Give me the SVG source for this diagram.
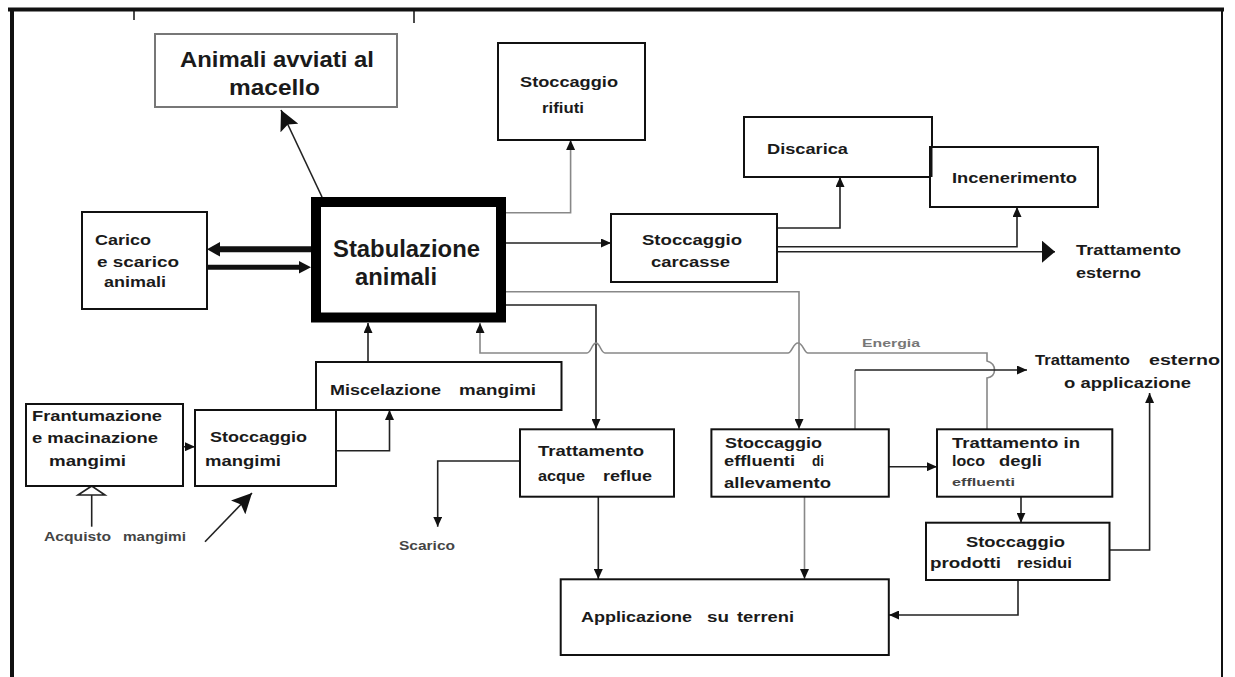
<svg xmlns="http://www.w3.org/2000/svg" width="1235" height="677" viewBox="0 0 1235 677">
<style>
.box{fill:#fff;stroke:#111;stroke-width:2}
.t{font-family:"Liberation Sans",Arial,sans-serif;font-weight:bold;font-size:15px;fill:#1a1a1a}
.s{font-family:"Liberation Sans",Arial,sans-serif;font-weight:bold;font-size:12px;fill:#444}
.big{font-family:"Liberation Sans",Arial,sans-serif;font-weight:bold;font-size:24px;fill:#1a1a1a}
.c{fill:none;stroke:#222;stroke-width:1.6}
.g{fill:none;stroke:#888;stroke-width:1.6}
</style>
<defs>
<marker id="a" markerUnits="userSpaceOnUse" markerWidth="10" markerHeight="9" refX="10" refY="4.5" orient="auto"><path d="M0,0 L10,4.5 L0,9 z" fill="#111"/></marker>
<marker id="b" markerUnits="userSpaceOnUse" markerWidth="20" markerHeight="20" refX="20" refY="10" orient="auto"><path d="M0,0 L20,10 L0,20 L4,10 z" fill="#111"/></marker>
<marker id="k" markerUnits="userSpaceOnUse" markerWidth="13" markerHeight="22" refX="13" refY="11" orient="auto"><path d="M0,0 L13,11 L0,22 z" fill="#111"/></marker>
</defs>
<rect width="1235" height="677" fill="#fff"/>
<g id="frame" fill="none" stroke="#111">
<line x1="8" y1="9.5" x2="1224" y2="9.5" stroke-width="4"/>
<line x1="12" y1="8" x2="12" y2="677" stroke-width="4"/>
<line x1="1222" y1="9" x2="1222" y2="677" stroke-width="2"/>
<line x1="134" y1="11" x2="134" y2="20" stroke-width="1.5"/>
<line x1="414" y1="11" x2="414" y2="23" stroke-width="1.5"/>
</g>
<g id="connectors">
<path class="c" d="M322,197 L281,110" marker-end="url(#b)"/>
<path class="g" d="M506,212.7 H570.6 V140" marker-end="url(#a)"/>
<path class="c" d="M506,243 H611" marker-end="url(#a)"/>
<path class="c" d="M775,228 H840 V177" marker-end="url(#a)"/>
<path class="c" d="M775,246.7 H1017 V207" marker-end="url(#a)"/>
<path class="c" d="M775,251.7 H1055" marker-end="url(#k)"/>
<path class="g" d="M506,291.7 H799 V429" marker-end="url(#a)"/>
<path class="c" d="M506,305 H596 V429" marker-end="url(#a)"/>
<path class="g" d="M987,429 V378 C997,376 997,364 987,361 V353 H808 C804,353 803,343 798,343 C793,343 792,353 788,353 H605 C601,353 600,343 596,343 C592,343 591,353 587,353 H480 V323" marker-end="url(#a)"/>
<path class="g" d="M855,429 V370"/>
<path class="c" d="M855,370 H1027" marker-end="url(#a)"/>
<path class="c" d="M368,361.7 V323" marker-end="url(#a)"/>
<path class="c" d="M156,446.7 H195" marker-end="url(#a)"/>
<path class="c" d="M332,450.7 H389.5 V410" marker-end="url(#a)"/>
<path class="c" d="M91.7,526.7 V495"/>
<polygon points="91.7,486 78,495 105,495" fill="#fff" stroke="#222" stroke-width="1.6"/>
<path class="c" d="M205,541.7 L252,493" marker-end="url(#b)"/>
<path fill="none" stroke="#111" stroke-width="6" d="M311,249.3 H218"/>
<path d="M207,249.3 L220,242 L220,256.6 z" fill="#111"/>
<path fill="none" stroke="#111" stroke-width="5" d="M207,267.3 H301"/>
<path d="M311,267.3 L299,261 L299,273.6 z" fill="#111"/>
<path class="c" d="M520,461 H437.7 V526.7" marker-end="url(#a)"/>
<path class="c" d="M598.3,496.7 V579" marker-end="url(#a)"/>
<path class="g" d="M804.5,496.7 V579" marker-end="url(#a)"/>
<path class="c" d="M885.5,466.7 H937" marker-end="url(#a)"/>
<path class="c" d="M1021,496.7 V522.7" marker-end="url(#a)"/>
<path class="c" d="M1109.5,550 H1149.6 V393" marker-end="url(#a)"/>
<path class="c" d="M1018,580 V615 H889" marker-end="url(#a)"/>
</g>
<g id="animali-macello">
<rect x="155" y="34" width="242" height="73" fill="#fff" stroke="#777" stroke-width="2"/>
<text class="big" style="font-size:22px" x="180" y="67" textLength="194" lengthAdjust="spacingAndGlyphs">Animali avviati al</text>
<text class="big" style="font-size:22px" x="229" y="95" textLength="91" lengthAdjust="spacingAndGlyphs">macello</text>
</g>
<g id="stoccaggio-rifiuti">
<rect class="box" x="498" y="43" width="147" height="97"/>
<text class="t" x="520" y="87" textLength="98" lengthAdjust="spacingAndGlyphs">Stoccaggio</text>
<text class="t" x="542" y="113" textLength="42" lengthAdjust="spacingAndGlyphs">rifiuti</text>
</g>
<g id="discarica">
<rect class="box" x="744" y="117" width="188" height="60"/>
<text class="t" x="767" y="154" textLength="81" lengthAdjust="spacingAndGlyphs">Discarica</text>
</g>
<g id="incenerimento">
<rect class="box" x="930" y="147" width="168" height="60"/>
<line x1="931" y1="147" x2="931" y2="177" stroke="#111" stroke-width="3"/>
<text class="t" x="952" y="183" textLength="125" lengthAdjust="spacingAndGlyphs">Incenerimento</text>
</g>
<g id="carico">
<rect class="box" x="82" y="212" width="125" height="97"/>
<text class="t" x="95" y="245" textLength="56" lengthAdjust="spacingAndGlyphs">Carico</text>
<text class="t" x="97" y="267" textLength="82" lengthAdjust="spacingAndGlyphs">e scarico</text>
<text class="t" x="104" y="287" textLength="62" lengthAdjust="spacingAndGlyphs">animali</text>
</g>
<g id="stabulazione">
<rect x="316" y="202" width="185" height="115.5" fill="#fff" stroke="#000" stroke-width="10"/>
<text class="big" x="333" y="257" textLength="147" lengthAdjust="spacingAndGlyphs">Stabulazione</text>
<text class="big" x="355" y="285" textLength="82" lengthAdjust="spacingAndGlyphs">animali</text>
</g>
<g id="stoccaggio-carcasse">
<rect class="box" x="611" y="214" width="166" height="68"/>
<text class="t" x="642" y="245" textLength="100" lengthAdjust="spacingAndGlyphs">Stoccaggio</text>
<text class="t" x="651" y="267" textLength="79" lengthAdjust="spacingAndGlyphs">carcasse</text>
</g>
<g id="trattamento-esterno">
<text class="t" x="1076" y="255" textLength="105" lengthAdjust="spacingAndGlyphs">Trattamento</text>
<text class="t" x="1076" y="278" textLength="65" lengthAdjust="spacingAndGlyphs">esterno</text>
</g>
<g id="energia">
<text class="s" style="font-size:11px;fill:#777" x="862" y="347" textLength="58" lengthAdjust="spacingAndGlyphs">Energia</text>
</g>
<g id="trattamento-esterno-applicazione">
<text class="t" y="365"><tspan x="1035" textLength="95" lengthAdjust="spacingAndGlyphs">Trattamento</tspan> <tspan x="1149" textLength="71" lengthAdjust="spacingAndGlyphs">esterno</tspan></text>
<text class="t" x="1064" y="388" textLength="127" lengthAdjust="spacingAndGlyphs">o applicazione</text>
</g>
<g id="miscelazione">
<rect class="box" x="316" y="362" width="245.5" height="48"/>
<text class="t" y="395"><tspan x="330" textLength="111" lengthAdjust="spacingAndGlyphs">Miscelazione</tspan> <tspan x="459" textLength="77" lengthAdjust="spacingAndGlyphs">mangimi</tspan></text>
</g>
<g id="frantumazione">
<rect class="box" x="26" y="404" width="157" height="82"/>
<text class="t" x="32" y="421" textLength="130" lengthAdjust="spacingAndGlyphs">Frantumazione</text>
<text class="t" x="32" y="443" textLength="126" lengthAdjust="spacingAndGlyphs">e macinazione</text>
<text class="t" x="49" y="466" textLength="77" lengthAdjust="spacingAndGlyphs">mangimi</text>
</g>
<g id="stoccaggio-mangimi">
<rect class="box" x="195" y="410" width="141" height="76"/>
<text class="t" x="210" y="442" textLength="97" lengthAdjust="spacingAndGlyphs">Stoccaggio</text>
<text class="t" x="205" y="466" textLength="76" lengthAdjust="spacingAndGlyphs">mangimi</text>
</g>
<g id="acquisto">
<text class="s" y="541"><tspan x="44" textLength="67" lengthAdjust="spacingAndGlyphs">Acquisto</tspan> <tspan x="123" textLength="63" lengthAdjust="spacingAndGlyphs">mangimi</tspan></text>
</g>
<g id="acque-reflue">
<rect class="box" x="520" y="429.3" width="154" height="67.4"/>
<text class="t" x="538" y="456" textLength="106" lengthAdjust="spacingAndGlyphs">Trattamento</text>
<text class="t" y="481"><tspan x="538" textLength="47" lengthAdjust="spacingAndGlyphs">acque</tspan> <tspan x="603" textLength="49" lengthAdjust="spacingAndGlyphs">reflue</tspan></text>
</g>
<g id="scarico">
<text class="s" x="399" y="550" textLength="56" lengthAdjust="spacingAndGlyphs">Scarico</text>
</g>
<g id="stoccaggio-effluenti">
<rect class="box" x="711.4" y="429.3" width="177.4" height="67.4"/>
<text class="t" x="725" y="448" textLength="97" lengthAdjust="spacingAndGlyphs">Stoccaggio</text>
<text class="t" y="466"><tspan x="724" textLength="71" lengthAdjust="spacingAndGlyphs">effluenti</tspan> <tspan x="812" textLength="12" lengthAdjust="spacingAndGlyphs">di</tspan></text>
<text class="t" x="724" y="488" textLength="107" lengthAdjust="spacingAndGlyphs">allevamento</text>
</g>
<g id="trattamento-in-loco">
<rect class="box" x="937" y="429.3" width="175.3" height="67.4"/>
<text class="t" x="952" y="448" textLength="128" lengthAdjust="spacingAndGlyphs">Trattamento in</text>
<text class="t" y="466"><tspan x="952" textLength="33" lengthAdjust="spacingAndGlyphs">loco</tspan> <tspan x="999" textLength="43" lengthAdjust="spacingAndGlyphs">degli</tspan></text>
<text class="s" style="font-size:11px" x="952" y="486" textLength="63" lengthAdjust="spacingAndGlyphs">effluenti</text>
</g>
<g id="stoccaggio-residui">
<rect class="box" x="926" y="522.7" width="183.5" height="57.3"/>
<text class="t" x="966" y="547" textLength="99" lengthAdjust="spacingAndGlyphs">Stoccaggio</text>
<text class="t" y="568"><tspan x="930" textLength="71" lengthAdjust="spacingAndGlyphs">prodotti</tspan> <tspan x="1017" textLength="55" lengthAdjust="spacingAndGlyphs">residui</tspan></text>
</g>
<g id="applicazione">
<rect class="box" x="560.7" y="579.3" width="328.1" height="75.7"/>
<text class="t" y="622"><tspan x="581" textLength="111" lengthAdjust="spacingAndGlyphs">Applicazione</tspan> <tspan x="707" textLength="22" lengthAdjust="spacingAndGlyphs">su</tspan> <tspan x="737" textLength="57" lengthAdjust="spacingAndGlyphs">terreni</tspan></text>
</g>
</svg>
